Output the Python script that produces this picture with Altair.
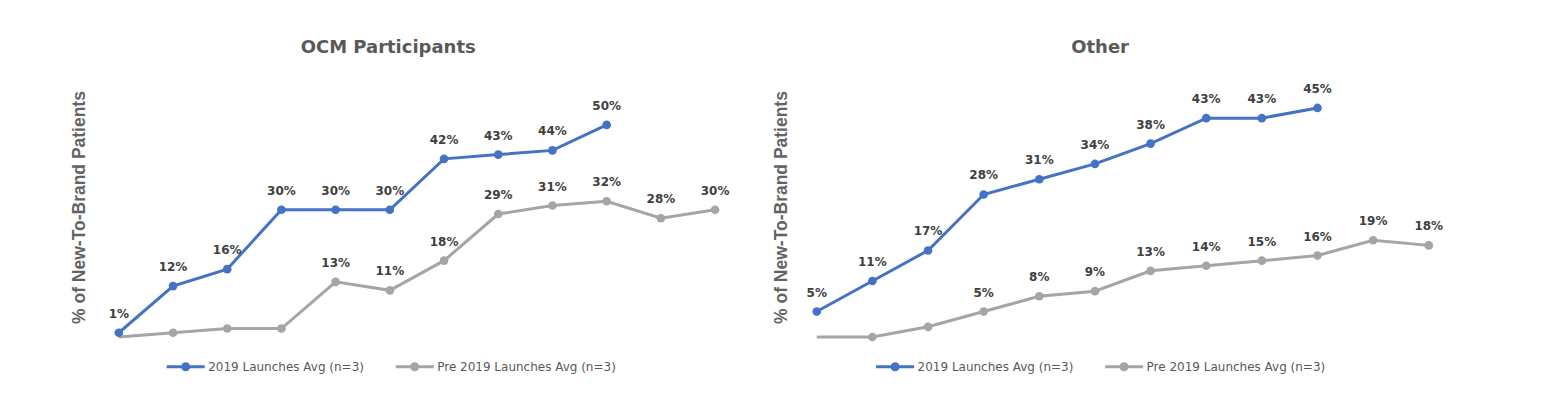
import altair as alt
import pandas as pd

# ---------------- data ----------------
series_names = ["2019 Launches Avg (n=3)", "Pre 2019 Launches Avg (n=3)"]
periods = list(range(1, 13))

ocm_2019 = [1, 12, 16, 30, 30, 30, 42, 43, 44, 50]
ocm_2019_labels = ["1%", "12%", "16%", "30%", "30%", "30%", "42%", "43%", "44%", "50%"]
ocm_pre = [0, 1, 2, 2, 13, 11, 18, 29, 31, 32, 28, 30]
ocm_pre_labels = ["", "", "", "", "13%", "11%", "18%", "29%", "31%", "32%", "28%", "30%"]

other_2019 = [5, 11, 17, 28, 31, 34, 38, 43, 43, 45]
other_2019_labels = ["5%", "11%", "17%", "28%", "31%", "34%", "38%", "43%", "43%", "45%"]
other_pre = [0, 0, 2, 5, 8, 9, 13, 14, 15, 16, 19, 18]
other_pre_labels = ["", "", "", "5%", "8%", "9%", "13%", "14%", "15%", "16%", "19%", "18%"]

BLUE = "#4472C4"
GREY = "#A5A5A5"


def make_df(v2019, l2019, vpre, lpre):
    rows = []
    for i, (v, l) in enumerate(zip(vpre, lpre)):
        rows.append({"period": periods[i], "value": v, "label": l,
                     "series": series_names[1], "marker": i > 0})
    for i, (v, l) in enumerate(zip(v2019, l2019)):
        rows.append({"period": periods[i], "value": v, "label": l,
                     "series": series_names[0], "marker": True})
    return pd.DataFrame(rows)


# legend symbol: a line with a dot (dot drawn by concentric stroked rings)
LEGEND_PATH = ("M-1,0L1,0"
               "M-0.16,0A0.16,0.16 0 1,0 0.16,0A0.16,0.16 0 1,0 -0.16,0"
               "M-0.08,0A0.08,0.08 0 1,0 0.08,0A0.08,0.08 0 1,0 -0.08,0")


def panel(df, title, ymax, width, xdom, title_dx, title_pad, legend_x):
    x = alt.X("period:Q", scale=alt.Scale(domain=xdom, nice=False, zero=False), axis=None)
    y = alt.Y("value:Q", scale=alt.Scale(domain=[0, ymax], nice=False, zero=True),
              axis=alt.Axis(title="% of New-To-Brand Patients", labels=False, ticks=False,
                            domain=False, grid=False, titleFont="Liberation Sans",
                            titleFontSize=17.5, titleFontWeight="bold", titleColor="#636363",
                            titlePadding=title_pad))
    color = alt.Color("series:N",
                      scale=alt.Scale(domain=series_names, range=[BLUE, GREY]),
                      legend=alt.Legend(title=None, orient="none", legendX=legend_x, legendY=269,
                                        direction="horizontal", symbolType=LEGEND_PATH,
                                        symbolSize=1444, symbolStrokeWidth=3,
                                        labelFont="DejaVu Sans", labelFontSize=12,
                                        labelColor="#595959", labelOffset=2, labelLimit=400,
                                        columnPadding=25, padding=0))
    base = alt.Chart(df)
    grey_df = alt.datum.series == series_names[1]
    blue_df = alt.datum.series == series_names[0]
    grey_line = base.transform_filter(grey_df).mark_line(strokeWidth=3).encode(x=x, y=y, color=color)
    grey_pts = base.transform_filter(grey_df).transform_filter(alt.datum.marker).mark_circle(
        size=75, opacity=1).encode(x=x, y=y, color=color)
    blue_line = base.transform_filter(blue_df).mark_line(strokeWidth=3).encode(x=x, y=y, color=color)
    blue_pts = base.transform_filter(blue_df).mark_circle(size=75, opacity=1).encode(
        x=x, y=y, color=color)
    labels = base.mark_text(font="DejaVu Sans", fontWeight="bold", fontSize=12,
                            color="#404040", baseline="alphabetic", dy=-15).encode(
        x=x, y=y, text="label:N")
    return alt.layer(grey_line, grey_pts, blue_line, blue_pts, labels).properties(
        width=width, height=260,
        title=alt.TitleParams(title, font="DejaVu Sans", fontSize=18, fontWeight="bold",
                              color="#595959", anchor="middle", dx=title_dx,
                              baseline="alphabetic", offset=6))


left = panel(make_df(ocm_2019, ocm_2019_labels, ocm_pre, ocm_pre_labels),
             "OCM Participants", 61.3, 644, [0.62, 12.5], -32, 9.7, 67)
right = panel(make_df(other_2019, other_2019_labels, other_pre, other_pre_labels),
              "Other", 51.08, 661, [0.62, 12.5], -26, 5.5, 79)

chart = alt.hconcat(left, right, spacing=29.4).resolve_scale(
    y="independent", color="independent").resolve_legend(color="independent").properties(
    padding={"left": 62.2, "top": 31, "right": 5, "bottom": 5}, background="white"
).configure_view(stroke=None)

chart.save("out.html", embed_options={"renderer": "svg", "actions": False})
